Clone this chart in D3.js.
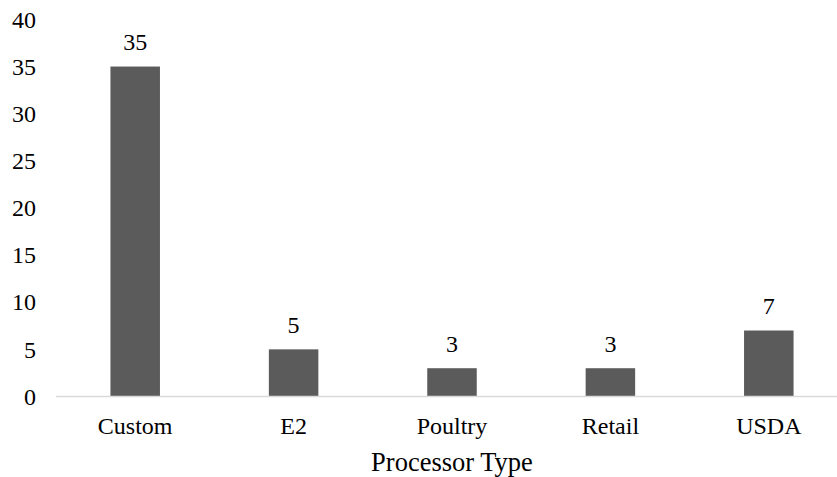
<!DOCTYPE html>
<html>
<head>
<meta charset="utf-8">
<script src="https://cdn.jsdelivr.net/npm/d3@7"></script>
<style>
  html, body { margin: 0; padding: 0; background: #ffffff; }
  svg { display: block; }
</style>
</head>
<body>
<svg id="chart" width="837" height="477" font-family="Liberation Serif, Times New Roman, serif"></svg>
<script>
// Processor counts by type
const categories = ["Custom", "E2", "Poultry", "Retail", "USDA"];
const counts = [35, 5, 3, 3, 7];
const yTicks = [0, 5, 10, 15, 20, 25, 30, 35, 40];
const xTitle = "Processor Type";

const FONT = "Liberation Serif, Times New Roman, serif";
const svg = d3.select("#chart");

const x = d3.scaleBand()
  .domain(categories)
  .range([56, 848])
  .paddingInner(0.6875)
  .paddingOuter(0.34375);

const y = d3.scaleLinear()
  .domain([0, 40])
  .range([396.5, 19.4]);

// y tick labels (no axis line or gridlines)
const yAxis = d3.axisLeft(y).tickValues(yTicks).tickSize(0).tickPadding(0);
const gy = svg.append("g").attr("transform", "translate(36,0)").call(yAxis)
  .attr("font-family", FONT).attr("font-size", 24);
gy.select(".domain").remove();
gy.selectAll("text").attr("fill", "#000");

// bars
svg.append("g").selectAll("rect")
  .data(categories)
  .join("rect")
  .attr("x", d => x(d))
  .attr("width", x.bandwidth())
  .attr("y", (d, i) => y(counts[i]))
  .attr("height", (d, i) => y(0) - y(counts[i]))
  .attr("fill", "#5b5b5b");

// value labels above bars
svg.append("g")
  .attr("font-family", FONT).attr("font-size", 24)
  .selectAll("text")
  .data(categories)
  .join("text")
  .attr("x", d => x(d) + x.bandwidth() / 2)
  .attr("y", (d, i) => y(counts[i]) - 16.5)
  .attr("text-anchor", "middle")
  .attr("fill", "#000")
  .text((d, i) => counts[i]);

// category axis along zero
const xAxis = d3.axisBottom(x).tickSize(0).tickPadding(0);
const gx = svg.append("g").attr("transform", `translate(0,${y(0)})`).call(xAxis)
  .attr("font-family", FONT).attr("font-size", 24);
gx.select(".domain").attr("stroke", "#d9d9d9").attr("stroke-width", 1.4)
  .attr("d", "M56,0H848");
gx.selectAll("text")
  .attr("dy", null)
  .attr("y", 37)
  .attr("fill", "#000");

// axis title
svg.append("text")
  .attr("x", (x.range()[0] + x.range()[1]) / 2)
  .attr("y", 471)
  .attr("text-anchor", "middle")
  .attr("font-family", FONT)
  .attr("font-size", 26.5)
  .attr("fill", "#000")
  .text(xTitle);
</script>
</body>
</html>
